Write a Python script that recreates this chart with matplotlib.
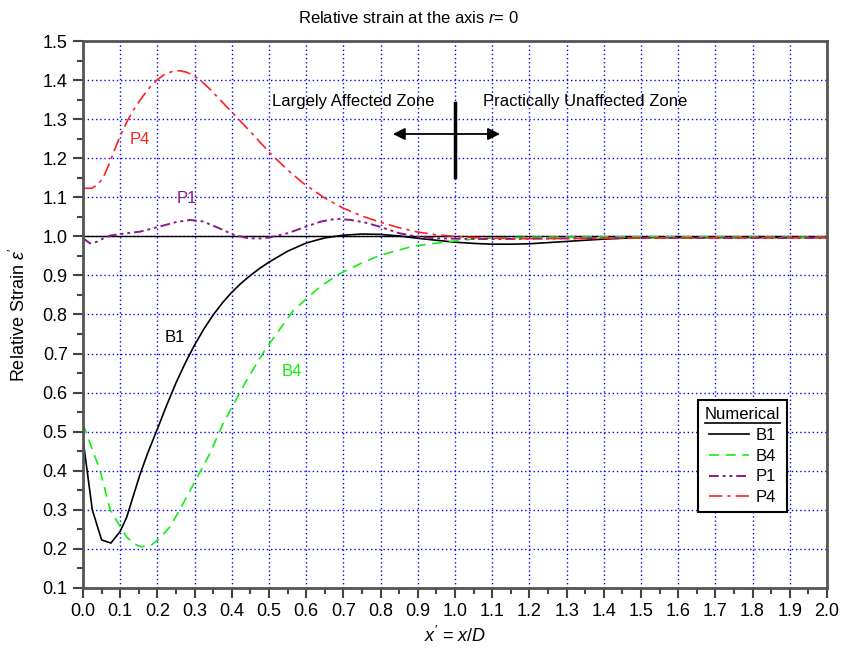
import numpy as np
import matplotlib.pyplot as plt
from matplotlib.lines import Line2D
from matplotlib.ticker import MultipleLocator, FormatStrFormatter

plt.rcParams['font.family'] = ['Liberation Sans', 'DejaVu Sans']
plt.rcParams['mathtext.fontset'] = 'custom'
plt.rcParams['mathtext.rm'] = 'Liberation Sans'
plt.rcParams['mathtext.it'] = 'Liberation Sans:italic'

# relative strain along the axis, x' = x/D
x_b1 = [0.0, 0.025, 0.05, 0.075, 0.1, 0.117, 0.135, 0.153, 0.175, 0.2, 0.225, 0.25,
        0.275, 0.3, 0.325, 0.35, 0.375, 0.4, 0.425, 0.45, 0.475, 0.5, 0.55, 0.6, 0.65,
        0.7, 0.75, 0.8, 0.85, 0.9, 0.95, 1.0, 1.05, 1.1, 1.15, 1.2, 1.25, 1.3, 1.35,
        1.4, 1.45, 1.5, 1.6, 1.8, 2.0]
y_b1 = [0.48, 0.30, 0.223, 0.215, 0.245, 0.28, 0.335, 0.39, 0.448, 0.507, 0.568, 0.625,
        0.676, 0.722, 0.763, 0.799, 0.830, 0.857, 0.880, 0.900, 0.918, 0.934, 0.962, 0.983, 0.996,
        1.003, 1.006, 1.005, 1.001, 0.995, 0.99, 0.985, 0.982, 0.98, 0.98, 0.981, 0.984, 0.987, 0.99,
        0.993, 0.995, 0.997, 0.997, 0.997, 0.997]

x_b4 = [0.0, 0.046, 0.073, 0.1, 0.117, 0.135, 0.153, 0.18, 0.207, 0.234, 0.26, 0.288,
        0.341, 0.377, 0.44, 0.489, 0.565, 0.637, 0.691, 0.75, 0.8, 0.888, 0.978, 1.067,
        1.2, 1.5, 2.0]
y_b4 = [0.52, 0.40, 0.30, 0.257, 0.231, 0.215, 0.206, 0.207, 0.228, 0.257, 0.30, 0.35,
        0.444, 0.522, 0.632, 0.709, 0.81, 0.871, 0.905, 0.932, 0.952, 0.975, 0.986, 0.995,
        0.998, 0.999, 0.998]

x_p1 = [0.0, 0.019, 0.037, 0.055, 0.073, 0.1, 0.153, 0.198, 0.252, 0.288, 0.323, 0.368,
        0.404, 0.44, 0.47, 0.5, 0.55, 0.6, 0.64, 0.68, 0.72, 0.76, 0.8, 0.85, 0.9, 0.95,
        1.0, 1.1, 1.2, 1.5, 2.0]
y_p1 = [0.995, 0.982, 0.986, 0.995, 1.002, 1.006, 1.012, 1.023, 1.037, 1.042, 1.038, 1.02,
        1.004, 0.996, 0.994, 0.997, 1.008, 1.025, 1.038, 1.045, 1.042, 1.035, 1.024, 1.008, 0.999, 0.995,
        0.994, 0.993, 0.994, 0.996, 0.996]

x_p4 = [0.0, 0.023, 0.04, 0.055, 0.07, 0.085, 0.1, 0.12, 0.14, 0.162, 0.18, 0.2,
        0.22, 0.243, 0.26, 0.279, 0.3, 0.315, 0.34, 0.368, 0.4, 0.422, 0.45, 0.503,
        0.55, 0.592, 0.65, 0.70, 0.75, 0.8, 0.85, 0.9, 0.95, 1.0, 1.067, 1.2, 1.5, 2.0]
y_p4 = [1.123, 1.123, 1.132, 1.152, 1.185, 1.222, 1.257, 1.297, 1.330, 1.360, 1.382, 1.401,
        1.415, 1.423, 1.424, 1.420, 1.410, 1.400, 1.378, 1.350, 1.318, 1.296, 1.268, 1.213,
        1.170, 1.136, 1.098, 1.072, 1.052, 1.036, 1.022, 1.011, 1.004, 1.0, 0.996, 0.994, 0.996, 0.997]

c_b1, c_b4, c_p1, c_p4 = 'black', '#11ee11', '#8a1a8a', '#ff2020'

fig = plt.figure(figsize=(8.41, 6.55), dpi=100)
ax = fig.add_axes([0.0987, 0.1023, 0.8846, 0.8351])

ax.grid(True, which='major', color='blue', linestyle=(0, (1, 2)), linewidth=1)
ax.axhline(1.0, color='black', linewidth=1)

l_b1, = ax.plot(x_b1, y_b1, color=c_b1, linewidth=1.2)
l_b4, = ax.plot(x_b4, y_b4, color=c_b4, linewidth=1.2, linestyle=(0, (6, 4)))
l_p1, = ax.plot(x_p1, y_p1, color=c_p1, linewidth=1.4,
                linestyle=(0, (5, 2, 1.5, 2, 1.5, 2)))
l_p4, = ax.plot(x_p4, y_p4, color=c_p4, linewidth=1.2,
                linestyle=(0, (8, 3, 2, 3)))

ax.text(0.153, 1.249, 'P4', color=c_p4, fontsize=12, ha='center', va='center')
ax.text(0.28, 1.096, 'P1', color=c_p1, fontsize=12, ha='center', va='center')
ax.text(0.247, 0.74, 'B1', color=c_b1, fontsize=12, ha='center', va='center')
ax.text(0.562, 0.655, 'B4', color=c_b4, fontsize=12, ha='center', va='center')

# zone boundary marker
ax.text(0.726, 1.344, 'Largely Affected Zone', fontsize=12, ha='center', va='center')
ax.text(1.35, 1.344, 'Practically Unaffected Zone', fontsize=12, ha='center', va='center')
ax.plot([1.0, 1.0], [1.152, 1.341], color='black', linewidth=2.5)
ax.annotate('', xy=(0.833, 1.262), xytext=(1.121, 1.262),
            arrowprops=dict(arrowstyle='<|-|>', color='black', lw=1.3,
                            mutation_scale=18, shrinkA=0, shrinkB=0))

ax.set_xlim(0, 2.0)
ax.set_ylim(0.1, 1.5)
ax.xaxis.set_major_locator(MultipleLocator(0.1))
ax.xaxis.set_minor_locator(MultipleLocator(0.05))
ax.yaxis.set_major_locator(MultipleLocator(0.1))
ax.yaxis.set_minor_locator(MultipleLocator(0.05))
ax.xaxis.set_major_formatter(FormatStrFormatter('%.1f'))
ax.yaxis.set_major_formatter(FormatStrFormatter('%.1f'))
ax.tick_params(which='major', direction='out', length=7.5, width=1.5, color='#444444',
               labelsize=13)
ax.tick_params(which='minor', direction='out', length=4.5, width=1.5, color='#444444')
for s in ax.spines.values():
    s.set_linewidth(2)
    s.set_color('#555555')

fig.text(408 / 841, 1 - 18 / 655, r"Relative strain at the axis $r$= 0",
         fontsize=12, ha='center', va='center')
ax.set_xlabel(r"$x'$ = $x/D$", fontsize=13)
ax.set_ylabel(r"Relative Strain $\varepsilon'$", fontsize=13, labelpad=10)

leg = ax.legend([l_b1, l_b4, l_p1, l_p4], ['B1', 'B4', 'P1', 'P4'],
                title="Numerical", loc='lower right',
                bbox_to_anchor=(0.946, 0.139), borderaxespad=0,
                fontsize=12, title_fontsize=12,
                fancybox=False, framealpha=1, edgecolor='black',
                handlelength=2.4, handletextpad=0.4, labelspacing=0.35,
                borderpad=0.4)
leg.get_frame().set_linewidth(1.5)

# underline the legend title
fig.canvas.draw()
bb = leg.get_title().get_window_extent().transformed(fig.transFigure.inverted())
fig.add_artist(Line2D([bb.x0, bb.x1], [bb.y0 - 0.002, bb.y0 - 0.002],
                      color='black', linewidth=1.2, transform=fig.transFigure))

plt.savefig('out.png', dpi=100)
